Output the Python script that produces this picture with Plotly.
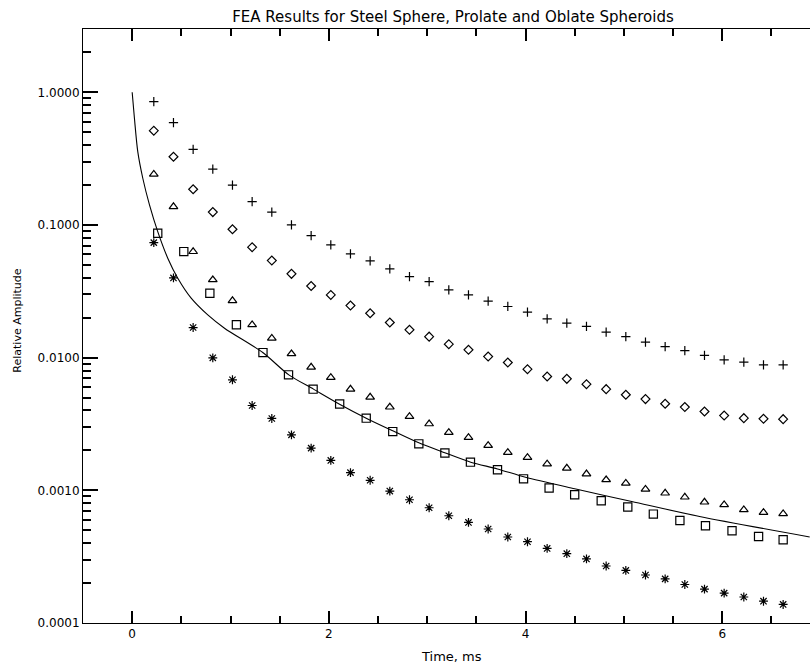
import plotly.graph_objects as go

# ---- data (time in ms, relative amplitude) ----
t_main = [0.22, 0.42, 0.62, 0.82, 1.02, 1.22, 1.42, 1.62, 1.82, 2.02, 2.22,
          2.42, 2.62, 2.82, 3.02, 3.22, 3.42, 3.62, 3.82, 4.02, 4.22, 4.42,
          4.62, 4.82, 5.02, 5.22, 5.42, 5.62, 5.82, 6.02, 6.22, 6.42, 6.62]

plus_vals = [0.850, 0.590, 0.372, 0.264, 0.200, 0.150, 0.125, 0.100, 0.0831,
             0.0708, 0.0605, 0.0536, 0.0467, 0.0408, 0.0374, 0.0324, 0.0297,
             0.0267, 0.0243, 0.0220, 0.0196, 0.0182, 0.0172, 0.0156, 0.0144,
             0.0131, 0.0121, 0.0113, 0.0104, 0.00963, 0.00925, 0.00883, 0.00883]

diamond_vals = [0.514, 0.327, 0.186, 0.125, 0.0929, 0.0680, 0.0539, 0.0428,
                0.0347, 0.0297, 0.0247, 0.0216, 0.0184, 0.0162, 0.0144, 0.01264,
                0.01145, 0.01019, 0.00919, 0.00819, 0.00721, 0.00692, 0.00631,
                0.00579, 0.00525, 0.00487, 0.00449, 0.00424, 0.00393, 0.00366,
                0.00350, 0.00346, 0.00344]

triangle_vals = [0.241, 0.1375, 0.0630, 0.0386, 0.0269, 0.0177, 0.0140, 0.01069,
                 0.00848, 0.00708, 0.00579, 0.00504, 0.00424, 0.00360, 0.00317,
                 0.00273, 0.00250, 0.00218, 0.00193, 0.00177, 0.00158, 0.00147,
                 0.00133, 0.00120, 0.00113, 0.00102, 0.000953, 0.000889,
                 0.000815, 0.000778, 0.000714, 0.000681, 0.000666]

star_vals = [0.0736, 0.0399, 0.01686, 0.00997, 0.00681, 0.00436, 0.00348,
             0.00262, 0.00208, 0.00168, 0.00136, 0.00119, 0.000987, 0.000849,
             0.000739, 0.000643, 0.000573, 0.000511, 0.000445, 0.000410,
             0.000365, 0.000333, 0.000304, 0.000269, 0.000249, 0.000230,
             0.000215, 0.000195, 0.000180, 0.000168, 0.000157, 0.000146, 0.000138]

t_square = [0.26, 0.525, 0.79, 1.06, 1.33, 1.59, 1.84, 2.11, 2.38, 2.65, 2.915,
            3.18, 3.44, 3.715, 3.98, 4.24, 4.50, 4.77, 5.04, 5.30, 5.57, 5.83,
            6.10, 6.37, 6.62]

square_vals = [0.0867, 0.0630, 0.0306, 0.0177, 0.01092, 0.00742, 0.00579,
               0.00447, 0.00350, 0.00277, 0.00224, 0.00191, 0.00163, 0.00143,
               0.00122, 0.00104, 0.000925, 0.000834, 0.000748, 0.000662,
               0.000593, 0.000541, 0.000496, 0.000449, 0.000424]

t_curve = [0.0, 0.023, 0.057, 0.108, 0.176, 0.26, 0.362, 0.464, 0.60, 0.769,
           0.939, 1.328, 1.593, 1.844, 2.109, 2.38, 2.65, 2.915, 3.179, 3.443,
           3.715, 4.0, 4.5, 5.08, 5.77, 6.89]
curve_vals = [1.0, 0.637, 0.357, 0.225, 0.1416, 0.0891, 0.0562, 0.0397, 0.0281,
              0.0210, 0.01667, 0.01093, 0.00742, 0.00579, 0.00446, 0.00350,
              0.00281, 0.00228, 0.00192, 0.00163, 0.00145, 0.001254, 0.001027,
              0.000824, 0.000635, 0.000445]

title_text = "FEA Results for Steel Sphere, Prolate and Oblate Spheroids"
x_title = "Time, ms"
y_title = "Relative Amplitude"

FONT = "DejaVu Sans"
INK = "#000000"

fig = go.Figure()

fig.add_trace(go.Scatter(x=t_curve, y=curve_vals, mode="lines",
                         line=dict(color=INK, width=1.1, shape="spline",
                                   smoothing=0.8),
                         name="model"))

def add_markers(x, y, symbol, size, name):
    fig.add_trace(go.Scatter(
        x=x, y=y, mode="markers", name=name,
        marker=dict(symbol=symbol, size=size, color=INK,
                    line=dict(color=INK, width=1.2))))

add_markers(t_main, plus_vals, "cross-thin", 6.6, "plus")
add_markers(t_main, diamond_vals, "diamond-open", 6.8, "diamond")
add_markers(t_main, triangle_vals, "triangle-up-open", 7.6, "triangle")
add_markers(t_square, square_vals, "square-open", 8.2, "square")
add_markers(t_main, star_vals, "asterisk", 7.4, "asterisk")

fig.update_layout(
    width=810, height=666,
    margin=dict(l=83, r=0, t=29, b=43),
    paper_bgcolor="white", plot_bgcolor="white",
    showlegend=False,
    font=dict(family=FONT, color=INK, size=12),
    title=dict(text=title_text, xref="container", x=453 / 810, xanchor="center",
               yref="container", y=1 - 16.5 / 666, yanchor="middle",
               font=dict(family=FONT, size=15, color=INK)),
)

fig.update_xaxes(
    range=[-0.5, 6.893], showgrid=False, zeroline=False,
    showline=True, linecolor=INK, linewidth=1, mirror="allticks",
    tickmode="linear", tick0=0, dtick=2,
    ticks="inside", ticklen=12, tickwidth=1.5, tickcolor=INK,
    tickfont=dict(family=FONT, size=12, color=INK),
    minor=dict(ticks="inside", ticklen=7, tickwidth=1.5, tickcolor=INK,
               tick0=0, dtick=0.5),
)

fig.update_yaxes(
    type="log", range=[-4, 0.4771], showgrid=False, zeroline=False,
    showline=True, linecolor=INK, linewidth=1, mirror=False,
    tickmode="linear", tick0=0, dtick=1, tickformat=".4f",
    ticks="inside", ticklen=15, tickwidth=1.5, tickcolor=INK,
    tickfont=dict(family=FONT, size=12, color=INK),
    minor=dict(ticks="inside", ticklen=8, tickwidth=1.5, tickcolor=INK,
               dtick="D1"),
)

fig.add_annotation(text=x_title, xref="x", x=3.25, yref="paper",
                   y=-(656.5 - 623) / 594, xanchor="center", yanchor="middle",
                   showarrow=False, font=dict(family=FONT, size=13, color=INK))
fig.add_annotation(text=y_title, xref="paper", x=(16.7 - 83) / 727,
                   yref="paper", y=(623 - 321) / 594, xanchor="center",
                   yanchor="middle", textangle=-90, showarrow=False,
                   font=dict(family=FONT, size=11, color=INK))

fig.write_html("out.html")
